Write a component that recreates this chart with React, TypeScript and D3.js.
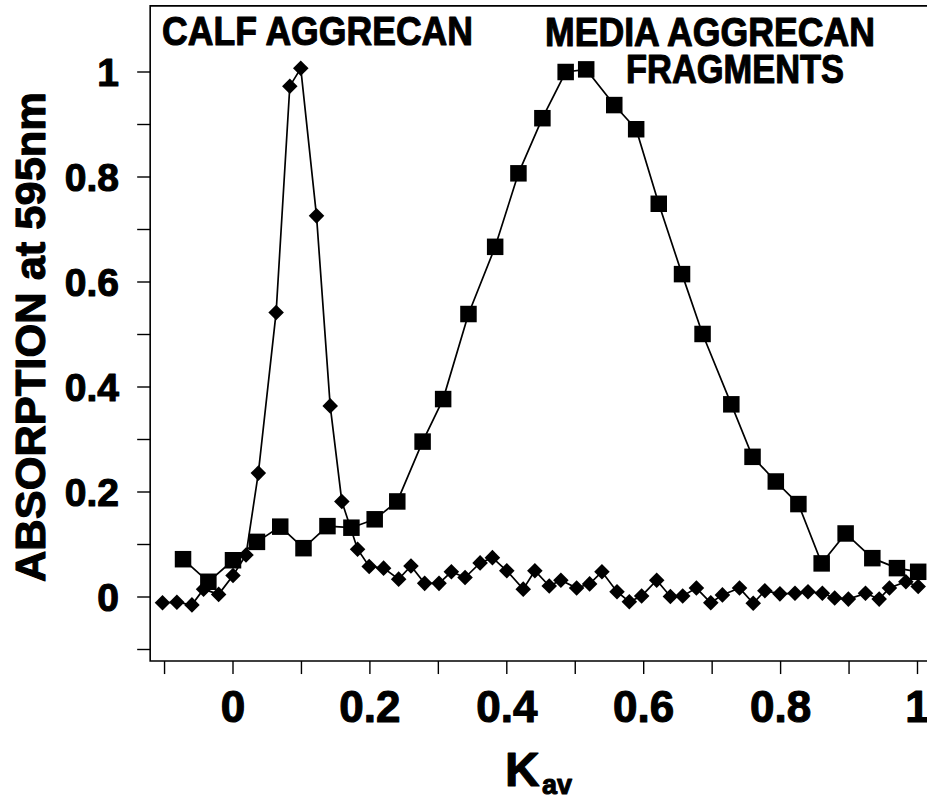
import React from "react";
import * as d3 from "d3";

// Media aggrecan fragments (squares)
const mediaKav = [-0.073, -0.036, 0.0, 0.035, 0.069, 0.103, 0.138, 0.173, 0.207, 0.24, 0.277, 0.307, 0.344, 0.383, 0.417, 0.452, 0.486, 0.516, 0.557, 0.589, 0.622, 0.656, 0.686, 0.728, 0.759, 0.793, 0.826, 0.86, 0.895, 0.934, 0.97, 1.001];
const mediaAbs = [0.072, 0.029, 0.07, 0.105, 0.134, 0.093, 0.135, 0.132, 0.148, 0.182, 0.296, 0.377, 0.539, 0.667, 0.807, 0.912, 1.0, 1.005, 0.937, 0.891, 0.749, 0.615, 0.501, 0.367, 0.267, 0.22, 0.177, 0.064, 0.121, 0.074, 0.055, 0.048];

// Calf aggrecan (diamonds)
const calfKav = [-0.103, -0.082, -0.06, -0.043, -0.021, 0.0, 0.019, 0.037, 0.063, 0.083, 0.099, 0.122, 0.142, 0.159, 0.182, 0.199, 0.22, 0.242, 0.26, 0.28, 0.301, 0.319, 0.339, 0.361, 0.379, 0.4, 0.424, 0.441, 0.462, 0.479, 0.502, 0.521, 0.539, 0.561, 0.579, 0.597, 0.619, 0.639, 0.657, 0.677, 0.698, 0.715, 0.74, 0.76, 0.777, 0.799, 0.821, 0.84, 0.861, 0.879, 0.899, 0.924, 0.944, 0.959, 0.983, 1.001];
const calfAbs = [-0.011, -0.01, -0.015, 0.015, 0.005, 0.041, 0.08, 0.236, 0.542, 0.973, 1.007, 0.726, 0.364, 0.182, 0.091, 0.058, 0.055, 0.034, 0.059, 0.026, 0.026, 0.048, 0.037, 0.065, 0.075, 0.05, 0.015, 0.05, 0.021, 0.032, 0.017, 0.025, 0.048, 0.01, -0.009, 0.002, 0.032, 0.001, 0.002, 0.017, -0.011, 0.004, 0.017, -0.012, 0.012, 0.006, 0.007, 0.01, 0.007, -0.002, -0.004, 0.007, -0.004, 0.017, 0.029, 0.02];

const xTickLabels = [0, 0.2, 0.4, 0.6, 0.8, 1];
const xMinorTicks = [-0.1, 0, 0.1, 0.2, 0.3, 0.4, 0.5, 0.6, 0.7, 0.8, 0.9, 1.0];
const yTickLabels = [0, 0.2, 0.4, 0.6, 0.8, 1];
const yMinorTicks = [-0.1, 0, 0.1, 0.2, 0.3, 0.4, 0.5, 0.6, 0.7, 0.8, 0.9, 1.0];

const xDomainMin = -0.121;
const xDomainMax = 1.035;
const yDomainMin = -0.122;
const yDomainMax = 1.126;

const FONT = "'Liberation Sans', Arial, Helvetica, sans-serif";

export default function App() {
  const x = d3.scaleLinear().domain([0, 1]).range([233, 917.5]);
  const y = d3.scaleLinear().domain([0, 1]).range([597, 72]);

  const media = mediaKav.map((k, i) => [k, mediaAbs[i]] as [number, number]);
  const calf = calfKav.map((k, i) => [k, calfAbs[i]] as [number, number]);

  const line = d3
    .line<[number, number]>()
    .x((d) => x(d[0]))
    .y((d) => y(d[1]));

  const squarePath = d3.symbol().type(d3.symbolSquare).size(16.5 * 16.5)() as string;
  const diamondPath = d3.symbol().type(d3.symbolSquare).size(11 * 11)() as string;

  const left = x(xDomainMin);
  const right = x(xDomainMax);
  const top = y(yDomainMax);
  const bottom = y(yDomainMin);

  const fmt = (v: number) => (v === 0 ? "0" : v === 1 ? "1" : String(v));
  const heavy = { stroke: "#000", strokeWidth: 1.1, strokeLinejoin: "round" as const };

  return (
    <svg
      width={927}
      height={801}
      style={{ position: "absolute", left: 0, top: 0, background: "#fff" }}
      fontFamily={FONT}
    >
      <rect x={0} y={0} width={927} height={801} fill="#fff" />
      {/* frame */}
      <path
        d={`M${right},${top}H${left}V${bottom}H${right}`}
        fill="none"
        stroke="#000"
        strokeWidth={1.6}
      />
      {/* y ticks */}
      {yMinorTicks.map((t) => (
        <line key={"yt" + t} x1={left - 13} x2={left} y1={y(t)} y2={y(t)} stroke="#000" strokeWidth={1.4} />
      ))}
      {yTickLabels.map((t) => (
        <text
          key={"yl" + t}
          x={119}
          y={y(t) + 14}
          textAnchor="end"
          fontSize={39}
          fontWeight="bold"
          {...heavy}
        >
          {fmt(t)}
        </text>
      ))}
      {/* x ticks */}
      {xMinorTicks.map((t) => (
        <line key={"xt" + t} x1={x(t)} x2={x(t)} y1={bottom} y2={bottom + 13} stroke="#000" strokeWidth={1.4} />
      ))}
      {xTickLabels.map((t) => (
        <text key={"xl" + t} x={x(t)} y={722} textAnchor="middle" fontSize={44} fontWeight="bold" {...heavy}>
          {fmt(t)}
        </text>
      ))}
      {/* axis titles */}
      <text
        transform="translate(45,337) rotate(-90)"
        textAnchor="middle"
        fontSize={42}
        fontWeight="bold"
        textLength={490}
        lengthAdjust="spacingAndGlyphs"
        {...heavy}
      >
        ABSORPTION at 595nm
      </text>
      <text x={505} y={786} fontSize={48} fontWeight="bold" {...heavy}>
        K
      </text>
      <text x={542} y={794} fontSize={28} fontWeight="bold" textLength={30} lengthAdjust="spacingAndGlyphs" {...heavy}>
        av
      </text>
      {/* series labels */}
      <text x={162} y={45} fontSize={41} fontWeight="bold" textLength={311} lengthAdjust="spacingAndGlyphs" {...heavy}>
        CALF AGGRECAN
      </text>
      <text x={545} y={46} fontSize={40} fontWeight="bold" textLength={330} lengthAdjust="spacingAndGlyphs" {...heavy}>
        MEDIA AGGRECAN
      </text>
      <text x={626} y={83} fontSize={40} fontWeight="bold" textLength={218} lengthAdjust="spacingAndGlyphs" {...heavy}>
        FRAGMENTS
      </text>
      {/* lines */}
      <path d={line(media) as string} fill="none" stroke="#000" strokeWidth={1.7} />
      <path d={line(calf) as string} fill="none" stroke="#000" strokeWidth={1.7} />
      {/* markers */}
      {media.map((d, i) => (
        <path key={"m" + i} d={squarePath} transform={`translate(${x(d[0])},${y(d[1])})`} fill="#000" />
      ))}
      {calf.map((d, i) => (
        <path
          key={"c" + i}
          d={diamondPath}
          transform={`translate(${x(d[0])},${y(d[1])}) rotate(45)`}
          fill="#000"
        />
      ))}
    </svg>
  );
}
